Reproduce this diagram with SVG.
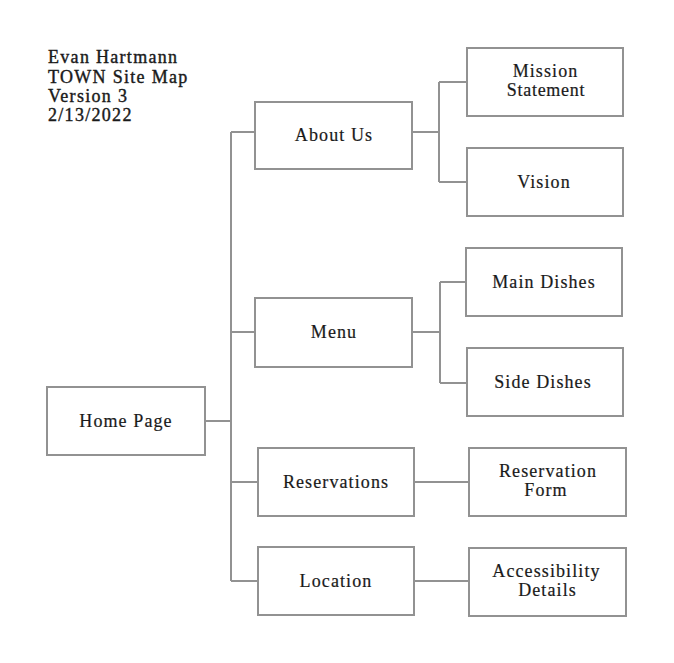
<svg xmlns="http://www.w3.org/2000/svg" width="674" height="663" viewBox="0 0 674 663">
<style>
.box{fill:#ffffff;stroke:#929292;stroke-width:2}
.ln{fill:none;stroke:#929292;stroke-width:2}
.lbl{font-family:"Liberation Serif","Times New Roman",serif;font-size:18px;letter-spacing:1.1px;fill:#1a1a1a;stroke:#1a1a1a;stroke-width:0.2;text-anchor:middle}
.tight{letter-spacing:0.7px}
.hdr{font-family:"Liberation Serif","Times New Roman",serif;font-size:18px;letter-spacing:1.3px;fill:#1a1a1a;stroke:#1a1a1a;stroke-width:0.4}
</style>
<rect x="0" y="0" width="674" height="663" fill="#ffffff"/>
<g id="header">
<text class="hdr" x="48" y="63">Evan Hartmann</text>
<text class="hdr" x="48" y="82.5">TOWN Site Map</text>
<text class="hdr" x="48" y="102">Version 3</text>
<text class="hdr" x="48" y="121">2/13/2022</text>
</g>
<g id="connectors">
<path class="ln" d="M231 132 V581"/>
<path class="ln" d="M231 132 H255"/>
<path class="ln" d="M231 332 H255"/>
<path class="ln" d="M205 421 H231"/>
<path class="ln" d="M231 482 H258"/>
<path class="ln" d="M231 581 H258"/>
<path class="ln" d="M412 132 H439 M439 82 V182 M439 82 H467 M439 182 H467"/>
<path class="ln" d="M412 332 H440 M440 282 V383 M440 282 H466 M440 383 H467"/>
<path class="ln" d="M414 482 H469"/>
<path class="ln" d="M414 581 H469"/>
</g>
<g id="home"><rect class="box" x="47" y="387" width="158" height="68"/><text class="lbl" x="126" y="426.5">Home Page</text></g>
<g id="about"><rect class="box" x="255" y="102" width="157" height="67"/><text class="lbl" x="334" y="141">About Us</text></g>
<g id="menu"><rect class="box" x="255" y="298" width="157" height="69"/><text class="lbl" x="334" y="338">Menu</text></g>
<g id="reservations"><rect class="box" x="258" y="448" width="156" height="68"/><text class="lbl" x="336" y="487.5">Reservations</text></g>
<g id="location"><rect class="box" x="258" y="547" width="156" height="68"/><text class="lbl" x="336" y="586.5">Location</text></g>
<g id="mission"><rect class="box" x="467" y="48" width="156" height="68"/><text class="lbl" x="545.5" y="76.5">Mission</text><text class="lbl tight" x="546" y="96">Statement</text></g>
<g id="vision"><rect class="box" x="467" y="148" width="156" height="68"/><text class="lbl" x="544" y="187.5">Vision</text></g>
<g id="main-dishes"><rect class="box" x="466" y="248" width="156" height="68"/><text class="lbl" x="544" y="287.5">Main Dishes</text></g>
<g id="side-dishes"><rect class="box" x="467" y="348" width="156" height="68"/><text class="lbl" x="543" y="387.5">Side Dishes</text></g>
<g id="reservation-form"><rect class="box" x="469" y="448" width="157" height="68"/><text class="lbl" x="548" y="476.5">Reservation</text><text class="lbl" x="546" y="496">Form</text></g>
<g id="accessibility"><rect class="box" x="469" y="548" width="157" height="68"/><text class="lbl" x="546.5" y="576.5">Accessibility</text><text class="lbl" x="547.5" y="596">Details</text></g>
</svg>
